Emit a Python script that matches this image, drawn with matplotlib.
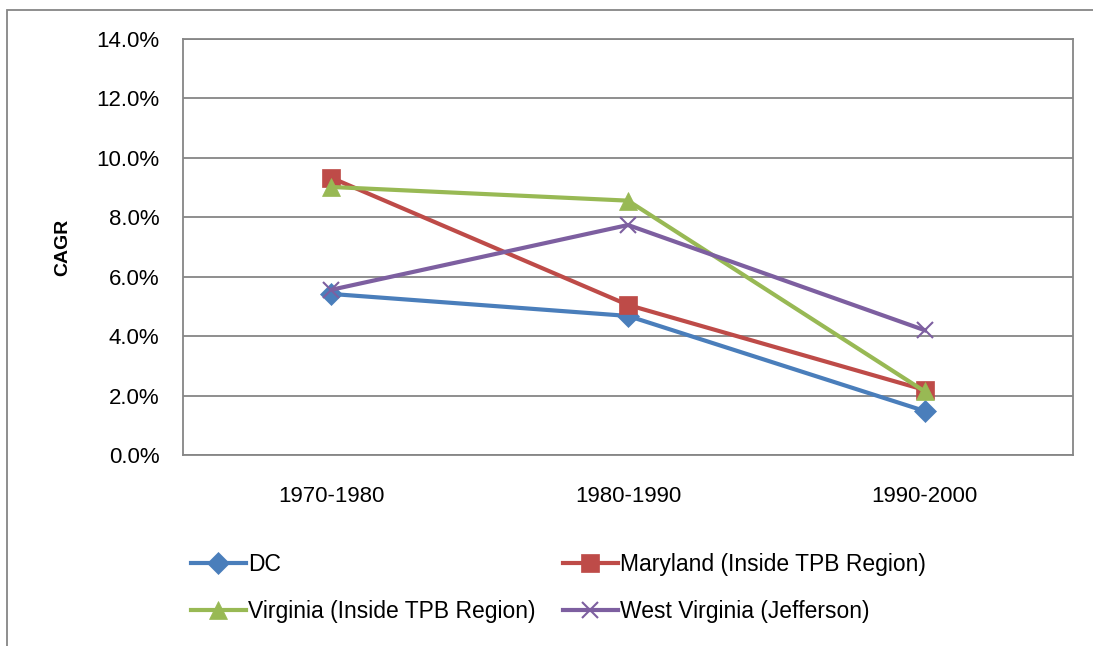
import numpy as np
import matplotlib.pyplot as plt
from matplotlib.patches import Rectangle
from matplotlib.ticker import FuncFormatter

plt.rcParams['font.family'] = ['Liberation Sans', 'DejaVu Sans']

periods = ["1970-1980", "1980-1990", "1990-2000"]
dc = [5.42, 4.68, 1.48]
maryland = [9.33, 5.05, 2.19]
virginia = [9.02, 8.56, 2.14]
west_virginia = [5.56, 7.74, 4.20]

series = [
    ("DC", dc, "#4A7EBB", "D", 11),
    ("Maryland (Inside TPB Region)", maryland, "#BE4B48", "s", 13),
    ("Virginia (Inside TPB Region)", virginia, "#98B954", "^", 13),
    ("West Virginia (Jefferson)", west_virginia, "#7D5FA0", "x", 12),
]

fig = plt.figure(figsize=(10.93, 6.46), dpi=100)
ax = fig.add_axes([183/1093, 1-455/646, 890/1093, 416/646])

x = np.arange(len(periods))
handles = []
for name, vals, col, mk, ms in series:
    h, = ax.plot(x, vals, color=col, lw=3, marker=mk, markersize=ms,
                 markeredgewidth=1.5 if mk == "x" else 0.5, markeredgecolor=col,
                 label=name)
    handles.append(h)

ax.set_xlim(-0.5, 2.5)
ax.set_ylim(0, 14)
ax.set_yticks(np.arange(0, 15, 2))
ax.yaxis.set_major_formatter(FuncFormatter(lambda v, p: "%.1f%%" % v))
ax.set_xticks(x)
ax.set_xticklabels(periods)
ax.tick_params(axis='both', labelsize=16, length=0)
ax.tick_params(axis='y', pad=17)
ax.tick_params(axis='x', pad=22)
ax.grid(axis='y', color='#868686', lw=1.3)
ax.set_axisbelow(True)
for s in ax.spines.values():
    s.set_color('#868686')
    s.set_linewidth(1.3)
ax.set_ylabel("CAGR", fontsize=14, fontweight='bold', labelpad=18)

# legend fills column-wise; order so rows read DC/Maryland, Virginia/WV
leg_order = [handles[0], handles[2], handles[1], handles[3]]
fig.legend(handles=leg_order, ncol=2, loc='upper left',
           bbox_to_anchor=(170/1093, 1-532/646), frameon=False,
           fontsize=16.5, handlelength=2.4, handletextpad=0.1,
           columnspacing=1.2, labelspacing=1.05)

fig.patches.append(Rectangle((7/1093, -0.01), 1.0, 1-10/646+0.01,
                             transform=fig.transFigure, fill=False,
                             edgecolor='#868686', lw=1.3))

fig.savefig("out.png", dpi=100)
